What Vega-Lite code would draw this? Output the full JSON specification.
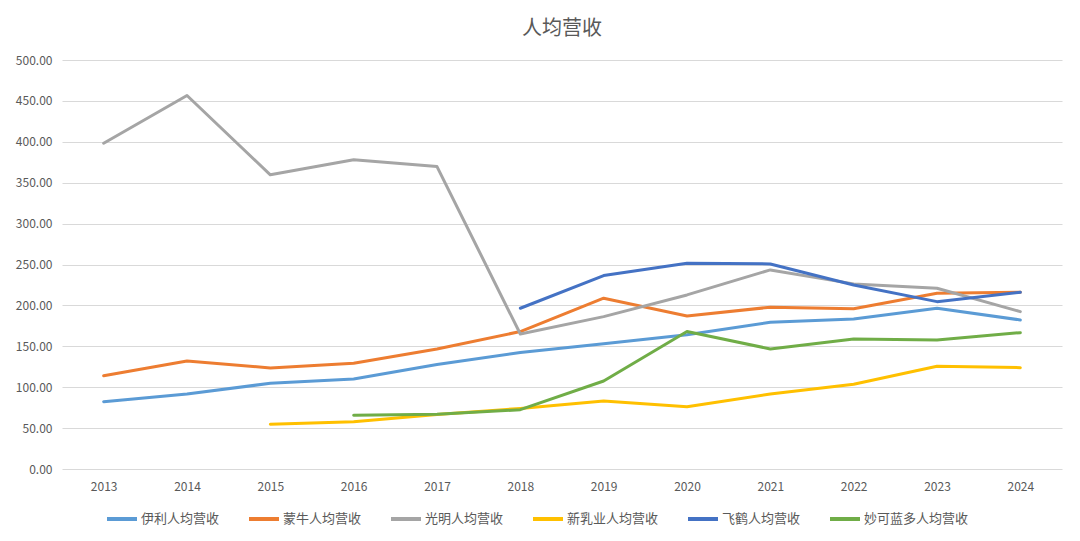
{
  "$schema": "https://vega.github.io/schema/vega-lite/v6.json",
  "width": 1000,
  "height": 409,
  "autosize": {"type": "none"},
  "padding": {"left": 62, "top": 60, "right": 18, "bottom": 72},
  "background": "#ffffff",
  "config": {"view": {"stroke": null}, "font": "Noto Sans CJK SC"},
  "title": {"text": "人均营收", "fontSize": 20, "fontWeight": "normal", "color": "#595959", "offset": 15, "font": "Noto Sans CJK SC"},
  "data": {"values": [
    {"year": "2013", "s": "伊利人均营收", "v": 82.3},
    {"year": "2014", "s": "伊利人均营收", "v": 91.7},
    {"year": "2015", "s": "伊利人均营收", "v": 104.8},
    {"year": "2016", "s": "伊利人均营收", "v": 110.0},
    {"year": "2017", "s": "伊利人均营收", "v": 127.8},
    {"year": "2018", "s": "伊利人均营收", "v": 142.3},
    {"year": "2019", "s": "伊利人均营收", "v": 153.2},
    {"year": "2020", "s": "伊利人均营收", "v": 164.0},
    {"year": "2021", "s": "伊利人均营收", "v": 179.4},
    {"year": "2022", "s": "伊利人均营收", "v": 183.5},
    {"year": "2023", "s": "伊利人均营收", "v": 196.5},
    {"year": "2024", "s": "伊利人均营收", "v": 182.2},
    {"year": "2013", "s": "蒙牛人均营收", "v": 114.1},
    {"year": "2014", "s": "蒙牛人均营收", "v": 132.0},
    {"year": "2015", "s": "蒙牛人均营收", "v": 123.5},
    {"year": "2016", "s": "蒙牛人均营收", "v": 129.3},
    {"year": "2017", "s": "蒙牛人均营收", "v": 146.8},
    {"year": "2018", "s": "蒙牛人均营收", "v": 168.0},
    {"year": "2019", "s": "蒙牛人均营收", "v": 208.8},
    {"year": "2020", "s": "蒙牛人均营收", "v": 187.0},
    {"year": "2021", "s": "蒙牛人均营收", "v": 197.8},
    {"year": "2022", "s": "蒙牛人均营收", "v": 196.0},
    {"year": "2023", "s": "蒙牛人均营收", "v": 214.9},
    {"year": "2024", "s": "蒙牛人均营收", "v": 216.0},
    {"year": "2013", "s": "光明人均营收", "v": 398.3},
    {"year": "2014", "s": "光明人均营收", "v": 456.6},
    {"year": "2015", "s": "光明人均营收", "v": 359.6},
    {"year": "2016", "s": "光明人均营收", "v": 378.0},
    {"year": "2017", "s": "光明人均营收", "v": 369.7},
    {"year": "2018", "s": "光明人均营收", "v": 165.0},
    {"year": "2019", "s": "光明人均营收", "v": 186.3},
    {"year": "2020", "s": "光明人均营收", "v": 212.8},
    {"year": "2021", "s": "光明人均营收", "v": 243.4},
    {"year": "2022", "s": "光明人均营收", "v": 226.3},
    {"year": "2023", "s": "光明人均营收", "v": 221.0},
    {"year": "2024", "s": "光明人均营收", "v": 192.4},
    {"year": "2015", "s": "新乳业人均营收", "v": 54.7},
    {"year": "2016", "s": "新乳业人均营收", "v": 57.9},
    {"year": "2017", "s": "新乳业人均营收", "v": 66.5},
    {"year": "2018", "s": "新乳业人均营收", "v": 74.0},
    {"year": "2019", "s": "新乳业人均营收", "v": 83.2},
    {"year": "2020", "s": "新乳业人均营收", "v": 76.2},
    {"year": "2021", "s": "新乳业人均营收", "v": 91.7},
    {"year": "2022", "s": "新乳业人均营收", "v": 103.6},
    {"year": "2023", "s": "新乳业人均营收", "v": 125.6},
    {"year": "2024", "s": "新乳业人均营收", "v": 123.9},
    {"year": "2018", "s": "飞鹤人均营收", "v": 196.5},
    {"year": "2019", "s": "飞鹤人均营收", "v": 236.5},
    {"year": "2020", "s": "飞鹤人均营收", "v": 251.6},
    {"year": "2021", "s": "飞鹤人均营收", "v": 250.7},
    {"year": "2022", "s": "飞鹤人均营收", "v": 225.0},
    {"year": "2023", "s": "飞鹤人均营收", "v": 204.6},
    {"year": "2024", "s": "飞鹤人均营收", "v": 216.0},
    {"year": "2016", "s": "妙可蓝多人均营收", "v": 65.7},
    {"year": "2017", "s": "妙可蓝多人均营收", "v": 66.8},
    {"year": "2018", "s": "妙可蓝多人均营收", "v": 72.5},
    {"year": "2019", "s": "妙可蓝多人均营收", "v": 107.6},
    {"year": "2020", "s": "妙可蓝多人均营收", "v": 168.0},
    {"year": "2021", "s": "妙可蓝多人均营收", "v": 146.8},
    {"year": "2022", "s": "妙可蓝多人均营收", "v": 159.0},
    {"year": "2023", "s": "妙可蓝多人均营收", "v": 157.8},
    {"year": "2024", "s": "妙可蓝多人均营收", "v": 166.7}
  ]},
  "mark": {"type": "line", "strokeWidth": 3, "strokeJoin": "round", "strokeCap": "round"},
  "encoding": {
    "x": {"field": "year", "type": "ordinal", "scale": {"type": "point", "padding": 0.5},
      "axis": {"title": null, "labelAngle": 0, "ticks": false, "domain": false, "grid": false, "labelFontSize": 12, "labelColor": "#595959", "labelPadding": 12}},
    "y": {"field": "v", "type": "quantitative", "scale": {"domain": [0, 500], "nice": false},
      "axis": {"title": null, "values": [0, 50, 100, 150, 200, 250, 300, 350, 400, 450, 500], "format": ".2f", "ticks": false, "domain": false, "gridColor": "#D9D9D9", "gridWidth": 1, "labelFontSize": 12, "labelColor": "#595959", "labelPadding": 10}},
    "color": {"field": "s", "type": "nominal",
      "scale": {"domain": ["伊利人均营收", "蒙牛人均营收", "光明人均营收", "新乳业人均营收", "飞鹤人均营收", "妙可蓝多人均营收"],
        "range": ["#5B9BD5", "#ED7D31", "#A5A5A5", "#FFC000", "#4472C4", "#70AD47"]},
      "legend": {"title": null, "orient": "none", "legendX": 43, "legendY": 442, "direction": "horizontal", "columns": 6, "symbolType": "stroke", "symbolSize": 900, "symbolStrokeWidth": 4, "labelFontSize": 13, "labelColor": "#595959", "columnPadding": 21, "labelOffset": 2}}
  }
}
